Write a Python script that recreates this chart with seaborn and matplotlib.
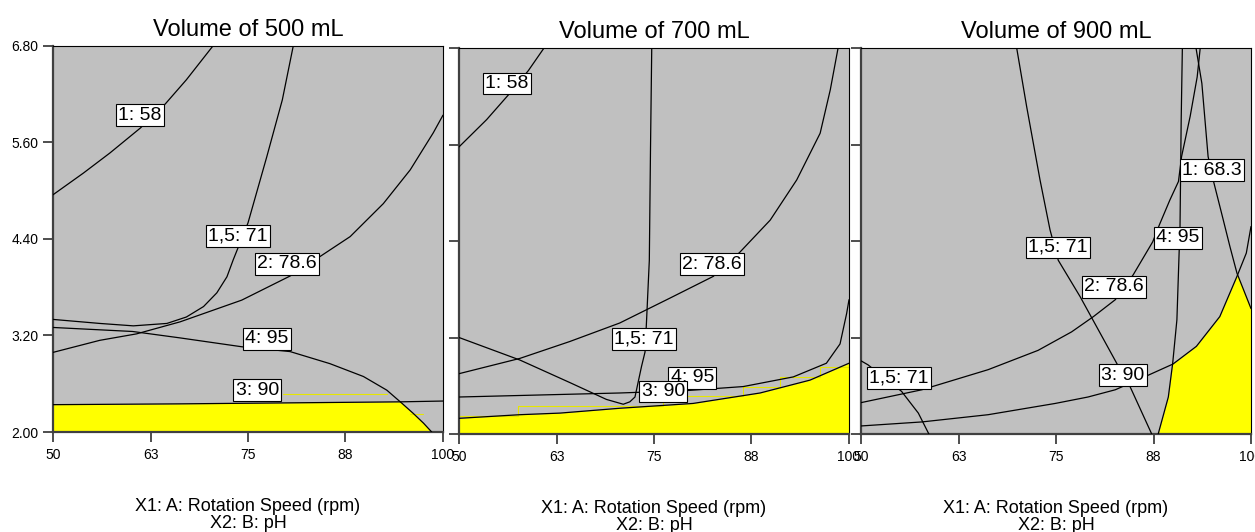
import numpy as np
import matplotlib
matplotlib.use("Agg")
import matplotlib.pyplot as plt
import seaborn as sns

# ---- axis settings -------------------------------------------------------
x_ticks = [50, 62.5, 75, 87.5, 100]
x_tick_labels = ["50", "63", "75", "88", "100"]
y_ticks = [2.0, 3.2, 4.4, 5.6, 6.8]
y_tick_labels = ["2.00", "3.20", "4.40", "5.60", "6.80"]
titles = ["Volume of 500 mL", "Volume of 700 mL", "Volume of 900 mL"]
x_label = "X1: A: Rotation Speed (rpm)\nX2: B: pH"

# ---- 500 mL contours (rotation speed, pH) -------------------------------
v500_r1_58_x = [50, 53.9, 57.3, 61.2, 64.4, 67.1, 70.5]
v500_r1_58_y = [4.95, 5.22, 5.47, 5.78, 6.08, 6.38, 6.80]
v500_r15_71_x = [50, 56.0, 60.3, 64.6, 67.1, 69.3, 71.0, 72.3, 73.1, 75.0, 77.4, 79.4, 80.8]
v500_r15_71_y = [3.40, 3.35, 3.32, 3.35, 3.43, 3.56, 3.73, 3.93, 4.14, 4.60, 5.42, 6.13, 6.80]
v500_r2_786_x = [50, 56.0, 60.7, 66.3, 74.2, 80.4, 84.2, 88.1, 92.35, 95.8, 98.75, 100]
v500_r2_786_y = [2.99, 3.14, 3.22, 3.37, 3.64, 3.94, 4.18, 4.43, 4.84, 5.26, 5.72, 5.94]
v500_r4_95_x = [50, 60.2, 66.3, 74.2, 80.4, 85.5, 89.8, 92.8, 94.7, 96.2, 97.5, 98.55]
v500_r4_95_y = [3.30, 3.25, 3.17, 3.06, 3.00, 2.85, 2.69, 2.52, 2.36, 2.23, 2.11, 2.00]
v500_r3_90_x = [50, 66.3, 94.5, 100]
v500_r3_90_y = [2.34, 2.35, 2.375, 2.385]
v500_flag_a_x = [79.5, 92.8]
v500_flag_a_y = [2.47, 2.47]
v500_flag_b_x = [95.8, 97.5]
v500_flag_b_y = [2.23, 2.23]
v500_labels = [("1: 58", 61.1, 5.94), ("1,5: 71", 73.7, 4.44), ("2: 78.6", 80.0, 4.09),
               ("4: 95", 77.4, 3.16), ("3: 90", 76.2, 2.52)]

# ---- 700 mL contours -----------------------------------------------------
v700_r1_58_x = [50, 53.55, 56.45, 58.9, 60.9]
v700_r1_58_y = [5.57, 5.91, 6.23, 6.52, 6.80]
v700_r15_71_x = [74.71, 74.55, 74.40, 74.06, 73.85, 73.4, 72.56, 71.9, 71.06, 68.9, 64.2, 57.8, 50]
v700_r15_71_y = [6.80, 5.53, 4.16, 3.44, 3.02, 2.84, 2.46, 2.40, 2.37, 2.43, 2.64, 2.92, 3.20]
v700_r2_786_x = [50, 57.8, 64.2, 70.6, 77.05, 82.6, 86.0, 89.9, 93.3, 96.3, 97.6, 98.6]
v700_r2_786_y = [2.75, 2.94, 3.15, 3.38, 3.69, 3.96, 4.26, 4.66, 5.16, 5.74, 6.28, 6.80]
v700_r4_95_x = [50, 70.6, 79.2, 86.45, 92.86, 97.1, 98.85, 99.7, 100]
v700_r4_95_y = [2.46, 2.51, 2.54, 2.59, 2.71, 2.88, 3.12, 3.50, 3.67]
v700_r3_90_x = [50, 57.8, 62.95, 70.6, 80.0, 88.6, 95.0, 100]
v700_r3_90_y = [2.195, 2.24, 2.26, 2.32, 2.38, 2.51, 2.67, 2.88]
v700_flag_x = [50, 57.5, 57.5, 76.15, 76.15, 86.45, 86.45, 91.2, 91.2, 96.3, 96.3, 100]
v700_flag_y = [2.23, 2.23, 2.35, 2.35, 2.47, 2.47, 2.58, 2.58, 2.71, 2.71, 2.83, 2.83]
v700_labels = [("1: 58", 56.15, 6.36), ("2: 78.6", 82.4, 4.11), ("1,5: 71", 73.7, 3.18),
               ("4: 95", 79.9, 2.70), ("3: 90", 76.2, 2.53)]

# ---- 900 mL contours -----------------------------------------------------
v900_r15_71a_x = [69.96, 71.24, 72.95, 74.23, 75.29, 78.08, 82.78, 84.49, 87.27]
v900_r15_71a_y = [6.80, 6.07, 5.16, 4.54, 4.16, 3.71, 2.88, 2.59, 2.00]
v900_r15_71b_x = [50, 50.9, 55.2, 57.35, 58.7]
v900_r15_71b_y = [2.91, 2.86, 2.53, 2.26, 2.00]
v900_r2_786_x = [50, 57.8, 66.3, 72.7, 77.0, 79.8, 82.6, 84.9, 87.4, 88.25, 89.6,
                 90.7, 91.1, 92.2, 93.1, 93.5]
v900_r2_786_y = [2.39, 2.55, 2.80, 3.04, 3.27, 3.46, 3.67, 3.98, 4.39, 4.60, 4.91,
                 5.14, 5.45, 5.95, 6.44, 6.81]
v900_r3_90_x = [50, 57.8, 66.3, 74.9, 79.1, 82.6, 86.8, 90.0, 93.0, 96.0, 98.2, 99.4, 100]
v900_r3_90_y = [2.10, 2.15, 2.24, 2.38, 2.46, 2.55, 2.73, 2.87, 3.09, 3.46, 3.96, 4.25, 4.58]
v900_r4_95_x = [91.2, 91.05, 90.9, 90.8, 90.5, 89.96, 89.4, 88.1]
v900_r4_95_y = [6.80, 5.91, 4.58, 4.30, 3.42, 2.88, 2.46, 2.00]
v900_r1_683_x = [92.95, 93.7, 94.5, 95.2, 96.45, 97.3, 98.2, 100]
v900_r1_683_y = [6.80, 6.36, 5.45, 5.14, 4.66, 4.33, 4.0, 3.56]
v900_labels = [("1,5: 71", 75.26, 4.32), ("1,5: 71", 54.9, 2.70), ("2: 78.6", 82.4, 3.83),
               ("3: 90", 83.6, 2.73), ("4: 95", 90.6, 4.44), ("1: 68.3", 95.0, 5.28)]

# ---- style ---------------------------------------------------------------
sns.set_theme(style="white")
plt.rcParams["font.family"] = ["Liberation Sans", "DejaVu Sans"]

GRAY = "#C0C0C0"
YELLOW = "#FFFF00"
FLAG = "#E6E600"
SPINE = "#404040"

fig = plt.figure(figsize=(12.55, 5.32), dpi=100)
W, H = 1255.0, 532.0


def make_axes(left, top, right, bottom):
    return fig.add_axes([left / W, 1 - bottom / H, (right - left) / W, (bottom - top) / H])


axes = [make_axes(53, 46, 443, 432), make_axes(459, 48, 849, 434), make_axes(861, 48, 1251, 434)]


def curve(ax, xs, ys, color="black", lw=0.9, z=3):
    sns.lineplot(x=xs, y=ys, sort=False, estimator=None, color=color,
                 linewidth=lw, ax=ax, zorder=z)


def tag(ax, text, x, y):
    ax.text(x, y, text, ha="center", va="center", fontsize=14, color="black", zorder=6,
            bbox=dict(boxstyle="square,pad=0.12", fc="white", ec="black", lw=0.8))


for i, ax in enumerate(axes):
    ax.set_facecolor(GRAY)
    ax.set_xlim(50, 100)
    ax.set_ylim(2.0, 6.8)
    ax.set_xticks(x_ticks)
    ax.set_xticklabels(x_tick_labels)
    ax.set_yticks(y_ticks)
    if i == 0:
        ax.set_yticklabels(y_tick_labels)
    else:
        ax.set_yticklabels([])
    ax.tick_params(axis="both", which="major", direction="out", length=7.5, width=1.3,
                   color=SPINE, labelsize=10, labelcolor="black", left=True, bottom=True)
    ax.tick_params(axis="x", pad=4)
    ax.tick_params(axis="y", pad=3)
    for side in ("left", "bottom"):
        ax.spines[side].set_color(SPINE)
        ax.spines[side].set_linewidth(1.6)
    for side in ("top", "right"):
        ax.spines[side].set_color("black")
        ax.spines[side].set_linewidth(0.8)
    ax.set_title(titles[i], fontsize=17, pad=7.5, color="black")
    ax.set_xlabel(x_label, fontsize=13, labelpad=26, linespacing=1.0, color="black")
    ax.set_ylabel("")

grid = np.linspace(50, 100, 1001)

# 500 mL: window below the 3:90 and 4:95 boundaries
ax = axes[0]
upper = np.minimum(np.interp(grid, v500_r3_90_x, v500_r3_90_y),
                   np.interp(grid, v500_r4_95_x, v500_r4_95_y))
ax.fill_between(grid, 2.0, upper, where=upper > 2.0, color=YELLOW, lw=0, zorder=1,
                interpolate=True)
curve(ax, v500_flag_a_x, v500_flag_a_y, color=FLAG, lw=0.8, z=2)
curve(ax, v500_flag_b_x, v500_flag_b_y, color=FLAG, lw=0.8, z=2)
for xs, ys in [(v500_r1_58_x, v500_r1_58_y), (v500_r15_71_x, v500_r15_71_y),
               (v500_r2_786_x, v500_r2_786_y), (v500_r4_95_x, v500_r4_95_y),
               (v500_r3_90_x, v500_r3_90_y)]:
    curve(ax, xs, ys)
for t, x, y in v500_labels:
    tag(ax, t, x, y)

# 700 mL: window below the 3:90 boundary
ax = axes[1]
upper = np.interp(grid, v700_r3_90_x, v700_r3_90_y)
ax.fill_between(grid, 2.0, upper, color=YELLOW, lw=0, zorder=1)
curve(ax, v700_flag_x, v700_flag_y, color=FLAG, lw=0.8, z=2)
for xs, ys in [(v700_r1_58_x, v700_r1_58_y), (v700_r15_71_x, v700_r15_71_y),
               (v700_r2_786_x, v700_r2_786_y), (v700_r4_95_x, v700_r4_95_y),
               (v700_r3_90_x, v700_r3_90_y)]:
    curve(ax, xs, ys)
for t, x, y in v700_labels:
    tag(ax, t, x, y)

# 900 mL: window right of 4:95, below 3:90 and left of 1:68.3
ax = axes[2]
ygrid = np.linspace(2.0, 6.8, 1001)
x_r4 = np.interp(ygrid, v900_r4_95_y[::-1], v900_r4_95_x[::-1])
x_r3 = np.interp(ygrid, v900_r3_90_y, v900_r3_90_x)
x_r1 = np.interp(ygrid, v900_r1_683_y[::-1], v900_r1_683_x[::-1])
left = np.maximum(x_r4, x_r3)
right = np.minimum(100.0, x_r1)
ax.fill_betweenx(ygrid, left, right, where=left < right, color=YELLOW, lw=0, zorder=1,
                 interpolate=True)
for xs, ys in [(v900_r15_71a_x, v900_r15_71a_y), (v900_r15_71b_x, v900_r15_71b_y),
               (v900_r2_786_x, v900_r2_786_y), (v900_r3_90_x, v900_r3_90_y),
               (v900_r4_95_x, v900_r4_95_y), (v900_r1_683_x, v900_r1_683_y)]:
    curve(ax, xs, ys)
for t, x, y in v900_labels:
    tag(ax, t, x, y)

fig.savefig("out.png", dpi=100, facecolor="white")
